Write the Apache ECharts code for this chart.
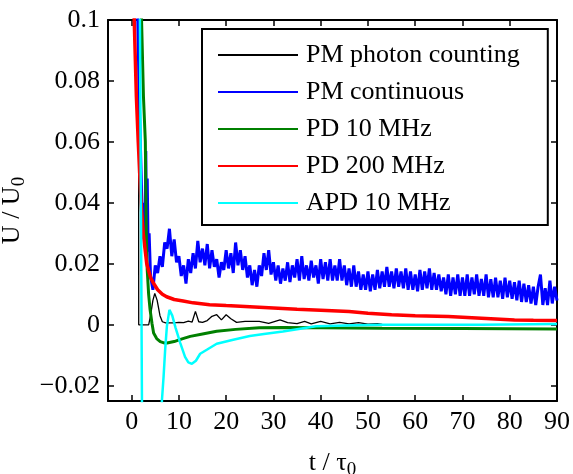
<!DOCTYPE html>
<html>
<head>
<meta charset="utf-8">
<script src="https://cdn.jsdelivr.net/npm/echarts@6/dist/echarts.min.js"></script>
<style>html,body{margin:0;padding:0;background:#fff}#c{width:573px;height:474px}</style>
</head>
<body>
<div id="c"></div>
<script>
// ---- data ----
const seriesNames = ['PM photon counting', 'PM continuous', 'PD 10 MHz', 'PD 200 MHz', 'APD 10 MHz'];
const xTicks = [0, 10, 20, 30, 40, 50, 60, 70, 80, 90];
const yTicks = [-0.02, 0, 0.02, 0.04, 0.06, 0.08, 0.1];

const pmPhoton = [[1.45,0.12],[1.5,0],[3.6,0],[4.0,0.003],[4.5,0.008],[4.9,0.0103],[5.4,0.008],[6.0,0.003],[6.5,0.001],[7.2,0.0006],[9,0.0006],[10,0.0008],[11,0.0007],[12,0.0012],[12.8,0.0009],[13.5,0.0044],[14.2,0.001],[15,0.0008],[16,0.0014],[17,0.0028],[18,0.0033],[19,0.0016],[20,0.0033],[21,0.002],[22.2,0.0008],[24,0.0011],[27,0.0011],[29,0.0005],[31.4,0.0016],[33,0.0007],[35,0.0004],[36.6,0.0011],[38,0.0003],[40,0.0011],[42,0.0003],[44,0.0008],[46,0.0003],[48,0.0007],[50,0.0002],[52,0.0004],[53,0.0001]];

const pmContinuous = [[1.0,0.15],[1.3,0.1],[1.6,0.075],[2.0,0.05],[2.3,0.03],[2.6,0.04],[2.8,0.026],[3.0,0.057],[3.1,0.03],[3.3,0.048],[3.5,0.024],[3.7,0.03],[4.0,0.016],
[4.5,0.0115],[5,0.0195],[5.5,0.017],[6,0.0225],[6.5,0.019],[7,0.027],[7.5,0.025],[8,0.0315],[8.5,0.0225],[9,0.028],[9.5,0.0205],[10,0.0225],[10.5,0.016],[11,0.0195],[11.5,0.0135],[12,0.0215],[12.5,0.017],[13,0.0235],[13.5,0.0185],[14,0.0275],[14.5,0.0205],[15,0.025],[15.5,0.0195],[16,0.0265],[16.5,0.0185],[17,0.0245],[17.5,0.019],[18,0.0215],[18.5,0.0155],[19,0.0205],[19.5,0.018],[20,0.0245],[20.5,0.0185],[21,0.0235],[21.5,0.017],[22,0.027],[22.5,0.0195],[23,0.0245],[23.5,0.018],[24,0.0225],[24.5,0.0155],[25,0.0195],[25.5,0.013],[26,0.018],[26.5,0.0125],[27,0.0195],[27.5,0.016],[28,0.0235],[28.5,0.018],[29,0.0245],[29.5,0.0165],[30,0.0205],[30.5,0.0145],[31,0.0195],[31.5,0.0135],[32,0.0185],[32.5,0.0145],[33,0.0205],[33.5,0.014],[34,0.0195],[34.5,0.0155],[35,0.0215],[35.5,0.0145],[36,0.0225],[36.5,0.015],[37,0.0195],[37.5,0.0145],[38,0.021],[38.5,0.0155],[39,0.0195],[39.5,0.0135],[40,0.0215],[40.5,0.015],[41,0.0205],[41.5,0.0145],[42,0.0215],[42.5,0.0145],[43,0.0195],[43.5,0.0145],[44,0.0215],[44.5,0.0145],[45,0.0195],[45.5,0.013],[46,0.0185],[46.5,0.0125],[47,0.0195],[47.5,0.0125],[48,0.0175],[48.5,0.0115],[49,0.0165],[49.5,0.0115],[50,0.0175],[50.5,0.011],[51,0.0165],[51.5,0.0115],[52,0.018],[52.5,0.012],[53,0.0175],[53.5,0.0125],[54,0.019],[54.5,0.0125],[55,0.0175],[55.5,0.012],[56,0.0185],[56.5,0.0125],[57,0.0175],[57.5,0.012],[58,0.0185],[58.5,0.0115],[59,0.0175],[59.5,0.0115],[60,0.0165],[60.5,0.011],[61,0.018],[61.5,0.0115],[62,0.0175],[62.5,0.012],[63,0.0185],[63.5,0.0115],[64,0.017],[64.5,0.0115],[65,0.0165],[65.5,0.011],[66,0.0155],[66.5,0.01],[67,0.0165],[67.5,0.0095],[68,0.0155],[68.5,0.01],[69,0.0165],[69.5,0.0095],[70,0.0155],[70.5,0.0095],[71,0.0165],[71.5,0.0095],[72,0.0155],[72.5,0.01],[73,0.0165],[73.5,0.0095],[74,0.015],[74.5,0.0095],[75,0.0165],[75.5,0.009],[76,0.015],[76.5,0.009],[77,0.0155],[77.5,0.009],[78,0.0145],[78.5,0.0085],[79,0.0155],[79.5,0.009],[80,0.0145],[80.5,0.0085],[81,0.014],[81.5,0.008],[82,0.0145],[82.5,0.0075],[83,0.0135],[83.5,0.0075],[84,0.013],[84.5,0.007],[85,0.0125],[85.5,0.0065],[86,0.0125],[86.5,0.0165],[87,0.0065],[87.5,0.012],[88,0.0065],[88.5,0.0145],[89,0.007],[89.5,0.0125],[90,0.008]];

const pd10 = [[1.8,0.15],[2.1,0.1],[2.5,0.075],[2.9,0.06],[3.1,0.03],[3.3,0.018],[3.6,0.01],[3.9,0.005],[4.3,0.0005],[4.65,-0.0027],[5.3,-0.0045],[6.05,-0.0055],[7,-0.006],[7.5,-0.006],[9,-0.0055],[10.5,-0.0047],[12.4,-0.0038],[15,-0.003],[18,-0.0021],[22,-0.0015],[27,-0.001],[32,-0.0009],[40,-0.001],[53,-0.0011],[70,-0.0012],[90,-0.0014]];

const pd200 = [[0.3,0.16],[0.55,0.1],[1.0,0.075],[1.4,0.06],[2.0,0.04],[2.45,0.03],[3.2,0.02],[4.0,0.0155],[4.6,0.0137],[5.5,0.0115],[6.5,0.01],[7.4,0.0092],[9,0.0083],[10.9,0.0078],[13,0.0072],[16.5,0.0066],[20,0.0063],[25,0.0059],[30,0.0055],[35,0.0051],[40,0.0048],[46,0.0044],[50,0.0038],[55,0.0033],[60,0.003],[67,0.0027],[75,0.0021],[81,0.0016],[85,0.0015],[90,0.0014]];

const apd10 = [[1.5,0.15],[1.75,0.1],[2.0,0.03],[2.2,-0.03],[2.5,-0.08],[6.2,-0.08],[6.4,-0.025],[6.76,-0.017],[7.1,-0.008],[7.46,-0.0005],[8.0,0.0049],[8.6,0.003],[9.3,-0.001],[10.3,-0.006],[11.3,-0.0105],[12.0,-0.0123],[12.75,-0.0128],[13.6,-0.0118],[14.5,-0.0095],[15.9,-0.0082],[18,-0.0062],[21.5,-0.0049],[25,-0.0037],[28,-0.003],[32,-0.0022],[36,-0.0012],[39,-0.0005],[45,-0.0002],[53,0],[74,0],[90,0.0003]];

const seriesData = [pmPhoton, pmContinuous, pd10, pd200, apd10];
const seriesColors = ['#000000', '#0000ff', '#008000', '#ff0000', '#00ffff'];
const seriesWidths = [1.3, 3, 3, 3.5, 2.5];

// ---- chart ----
const FONT = 'Liberation Serif';
const chart = echarts.init(document.getElementById('c'), null, {renderer: 'canvas'});
const fmtY = v => (v < 0 ? '\u2212' + String(-v) : String(v));
const axisLineStyle = {color: '#000', width: 2};

chart.setOption({
  animation: false,
  backgroundColor: '#fff',
  grid: {left: 108, right: 16, top: 20, bottom: 73, containLabel: false, outerBoundsMode: 'none'},
  xAxis: [{
    type: 'value', min: -5, max: 90, position: 'bottom',
    axisLine: {show: true, onZero: false, lineStyle: axisLineStyle},
    axisTick: {show: true, inside: true, length: 6, customValues: xTicks, lineStyle: {color: '#000', width: 1.5}},
    axisLabel: {show: true, customValues: xTicks, margin: 8, color: '#000', fontFamily: FONT, fontSize: 26},
    splitLine: {show: false},
    name: 't / \u03c4{sub|0}', nameLocation: 'middle', nameGap: 46,
    nameTextStyle: {color: '#000', fontFamily: FONT, fontSize: 26, rich: {sub: {fontFamily: FONT, fontSize: 19, color: '#000', padding: [14, 0, 0, 0]}}}
  }, {
    type: 'value', min: -5, max: 90, position: 'top',
    axisLine: {show: true, onZero: false, lineStyle: axisLineStyle},
    axisTick: {show: true, inside: true, length: 6, customValues: xTicks, lineStyle: {color: '#000', width: 1.5}},
    axisLabel: {show: false}, splitLine: {show: false}
  }],
  yAxis: [{
    type: 'value', min: -0.025, max: 0.1, position: 'left',
    axisLine: {show: true, onZero: false, lineStyle: axisLineStyle},
    axisTick: {show: true, inside: true, length: 6, customValues: yTicks, lineStyle: {color: '#000', width: 1.5}},
    axisLabel: {show: true, customValues: yTicks, margin: 8, color: '#000', fontFamily: FONT, fontSize: 26, formatter: fmtY},
    splitLine: {show: false},
    name: 'U / U{sub|0}', nameLocation: 'middle', nameGap: 65, nameRotate: 90,
    nameTextStyle: {color: '#000', fontFamily: FONT, fontSize: 26, rich: {sub: {fontFamily: FONT, fontSize: 19, color: '#000', padding: [14, 0, 0, 0]}}}
  }, {
    type: 'value', min: -0.025, max: 0.1, position: 'right',
    axisLine: {show: true, onZero: false, lineStyle: axisLineStyle},
    axisTick: {show: true, inside: true, length: 6, customValues: yTicks, lineStyle: {color: '#000', width: 1.5}},
    axisLabel: {show: false}, splitLine: {show: false}
  }],
  legend: {
    orient: 'vertical', left: 202, top: 29,
    backgroundColor: '#fff', borderColor: '#000', borderWidth: 2, borderRadius: 0,
    padding: [12, 28, 8, 16],
    itemWidth: 80, itemHeight: 2, itemGap: 9, icon: 'rect',
    textStyle: {color: '#000', fontFamily: FONT, fontSize: 26, lineHeight: 28, padding: [0, 0, 0, 3]},
    data: seriesNames
  },
  series: seriesNames.map((n, i) => ({
    name: n, type: 'line', data: seriesData[i], showSymbol: false, symbol: 'none',
    clip: true, color: seriesColors[i],
    lineStyle: {color: seriesColors[i], width: seriesWidths[i]},
    itemStyle: {color: seriesColors[i]},
    xAxisIndex: 0, yAxisIndex: 0, z: 2 + i
  }))
});
</script>
</body>
</html>
